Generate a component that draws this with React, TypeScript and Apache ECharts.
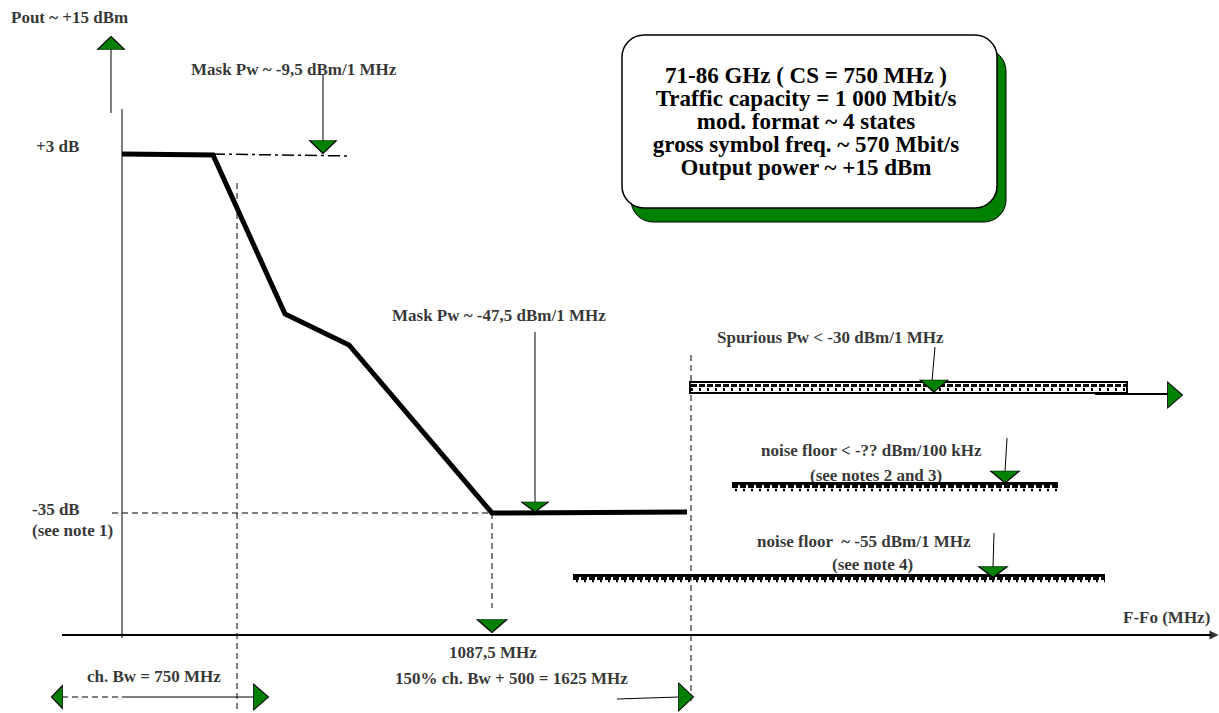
import React, { useEffect, useRef } from "react";
import * as echarts from "echarts";

const FONT = "'Liberation Serif', 'Times New Roman', Times, serif";

// Schematic diagram coordinates (x: frequency-offset direction, y: level, drawn downwards)
const maskX = [122, 213, 285, 349, 492, 687];
const maskY = [154, 155, 314, 345, 513, 512];
const maskExtX = [213, 350];
const maskExtY = [154, 156];

// thin solid segments [x1, y1, x2, y2]
const thinSegments = [
  [111, 49, 111, 113],
  [122, 109, 122, 638],
  [323, 75, 323, 141],
  [535, 332, 535, 503],
  [935, 347, 932, 381],
  [1007, 438, 1005, 472],
  [994, 533, 993, 567],
  [617, 699, 679, 697],
  [123, 697, 254, 697],
];
// medium solid segments
const mediumSegments = [
  [1095, 394, 1168, 394],
  [62, 635, 1211, 635],
];
// dashed segments
const dashedSegments = [
  [237, 183, 237, 713],
  [112, 513, 492, 513],
  [492, 513, 492, 608],
  [691, 355, 691, 703],
  [62, 697, 123, 697],
];
// hatched limit bars [x1, x2, yTop, yBottom, boxed]
const hatchBars = [
  [690, 1127, 382, 393, 1],
  [732, 1058, 482, 492, 0],
  [573, 1105, 574, 583, 0],
];
// arrow heads [x, y, direction(0 up,1 down,2 right,3 left), width, height]
const arrowHeads = [
  [111, 43, 0, 27, 13],
  [323, 147, 1, 27, 13],
  [535, 507, 1, 27, 10],
  [934, 386, 1, 28, 12],
  [1005, 477, 1, 29, 12],
  [993, 572, 1, 29, 11],
  [492, 626, 1, 30, 13],
  [1175, 395, 2, 26, 15],
  [686, 697, 2, 28, 15],
  [261, 697, 2, 26, 15],
  [57, 697, 3, 23, 11],
];
const axisHead = [1214, 635];

const labelTexts = [
  "Pout ~ +15 dBm",
  "Mask Pw ~ -9,5 dBm/1 MHz",
  "+3 dB",
  "Mask Pw ~ -47,5 dBm/1 MHz",
  "Spurious Pw < -30 dBm/1 MHz",
  "noise floor < -?? dBm/100 kHz",
  "(see notes 2 and 3)",
  "-35 dB",
  "(see note 1)",
  "noise floor  ~ -55 dBm/1 MHz",
  "(see note 4)",
  "F-Fo (MHz)",
  "1087,5 MHz",
  "150% ch. Bw + 500 = 1625 MHz",
  "ch. Bw = 750 MHz",
];
const labelX = [11, 191, 36, 392, 717, 761, 810, 32, 32, 757, 832, 1123, 449, 395, 87];
const labelY = [17, 69, 146, 315, 337, 450, 475, 509, 530, 541, 564, 617, 652, 678, 676];

const boxLines = [
  "71-86 GHz ( CS = 750 MHz )",
  "Traffic capacity = 1 000 Mbit/s",
  "mod. format ~ 4 states",
  "gross symbol freq. ~ 570 Mbit/s",
  "Output power ~ +15 dBm",
];

export default function App() {
  const ref = useRef<HTMLDivElement>(null);
  useEffect(() => {
    if (!ref.current) return;
    const chart = echarts.init(ref.current, undefined, { renderer: "svg" });

    const segSeries = (segs: number[][], width: number, type: any) =>
      segs.map((s) => ({
        type: "line",
        data: [
          [s[0], s[1]],
          [s[2], s[3]],
        ],
        symbol: "none",
        silent: true,
        lineStyle: { color: "#000", width, type },
        z: 3,
      }));

    const rot = [0, 180, -90, 90];

    const option: any = {
      animation: false,
      grid: { left: 0, right: 0, top: 0, bottom: 0, containLabel: false },
      xAxis: { type: "value", min: 0, max: 1219, show: false },
      yAxis: { type: "value", min: 0, max: 713, inverse: true, show: false },
      series: [
        ...segSeries(dashedSegments, 1, [6, 4]),
        ...segSeries(thinSegments, 1, "solid"),
        ...segSeries(mediumSegments, 2, "solid"),
        {
          type: "line",
          data: maskExtX.map((x, i) => [x, maskExtY[i]]),
          symbol: "none",
          lineStyle: { color: "#000", width: 1.5, type: [12, 4, 3, 4] },
          z: 3,
        },
        {
          type: "line",
          data: maskX.map((x, i) => [x, maskY[i]]),
          symbol: "none",
          lineStyle: { color: "#000", width: 5, join: "miter" },
          z: 4,
        },
        {
          type: "custom",
          data: hatchBars,
          z: 5,
          renderItem: (params: any, api: any) => {
            const p1 = api.coord([api.value(0), api.value(2)]);
            const p2 = api.coord([api.value(1), api.value(3)]);
            const boxed = api.value(4) === 1;
            const children: any[] = [];
            const x1 = p1[0];
            const x2 = p2[0];
            const top = p1[1];
            const bot = p2[1];
            if (boxed) {
              children.push({
                type: "rect",
                shape: { x: x1, y: top, width: x2 - x1, height: bot - top },
                style: { fill: "#fff", stroke: "#000", lineWidth: 2 },
              });
              children.push({
                type: "line",
                shape: { x1: x1 + 1, y1: top + 3.5, x2: x2 - 1, y2: top + 3.5 },
                style: { stroke: "#000", lineWidth: 3, lineDash: [6, 2] },
              });
              children.push({
                type: "line",
                shape: { x1: x1 + 1, y1: top + 7.5, x2: x2 - 1, y2: top + 7.5 },
                style: { stroke: "#000", lineWidth: 3, lineDash: [2, 6] },
              });
            } else {
              children.push({
                type: "line",
                shape: { x1, y1: top + 1.5, x2, y2: top + 1.5 },
                style: { stroke: "#000", lineWidth: 3 },
              });
              children.push({
                type: "line",
                shape: { x1, y1: top + 4.5, x2, y2: top + 4.5 },
                style: { stroke: "#000", lineWidth: 3, lineDash: [6, 2] },
              });
              children.push({
                type: "line",
                shape: { x1: x1 + 3, y1: bot - 2, x2, y2: bot - 2 },
                style: { stroke: "#000", lineWidth: 2.5, lineDash: [2, 6] },
              });
            }
            return { type: "group", children };
          },
        },
        {
          type: "scatter",
          z: 6,
          data: arrowHeads.map((a) => ({
            value: [a[0], a[1]],
            symbol: "triangle",
            symbolSize: [a[3], a[4]],
            symbolRotate: rot[a[2]],
          })),
          itemStyle: { color: "#008000", borderColor: "#000", borderWidth: 1, opacity: 1 },
          silent: true,
        },
        {
          type: "scatter",
          z: 6,
          data: [
            {
              value: axisHead,
              symbol: "triangle",
              symbolSize: [9, 9],
              symbolRotate: -90,
            },
          ],
          itemStyle: { color: "#000" },
          silent: true,
        },
        {
          type: "scatter",
          z: 7,
          symbolSize: 0,
          silent: true,
          data: labelTexts.map((t, i) => ({
            value: [labelX[i], labelY[i]],
            name: t,
          })),
          label: {
            show: true,
            position: [0, 0],
            align: "left",
            verticalAlign: "middle",
            formatter: (p: any) => p.name,
            color: "#000",
            fontFamily: FONT,
            fontWeight: "bold",
            fontSize: 17,
          },
        },
      ],
      graphic: [
        {
          type: "rect",
          shape: { x: 631, y: 49, width: 375, height: 173, r: 22 },
          style: { fill: "#008000", stroke: "#000", lineWidth: 1 },
        },
        {
          type: "rect",
          shape: { x: 622, y: 35, width: 375, height: 173, r: 22 },
          style: { fill: "#fff", stroke: "#000", lineWidth: 1.5 },
        },
        ...boxLines.map((t, i) => ({
          type: "text",
          x: 806,
          y: 75 + i * 23,
          style: {
            text: t,
            fill: "#000",
            fontFamily: FONT,
            fontWeight: "bold",
            fontSize: 23,
            align: "center",
            verticalAlign: "middle",
          },
        })),
      ],
    };
    chart.setOption(option);
    return () => chart.dispose();
  }, []);

  return (
    <div
      ref={ref}
      style={{ position: "fixed", left: 0, top: 0, width: 1219, height: 713, background: "#fff" }}
    />
  );
}
